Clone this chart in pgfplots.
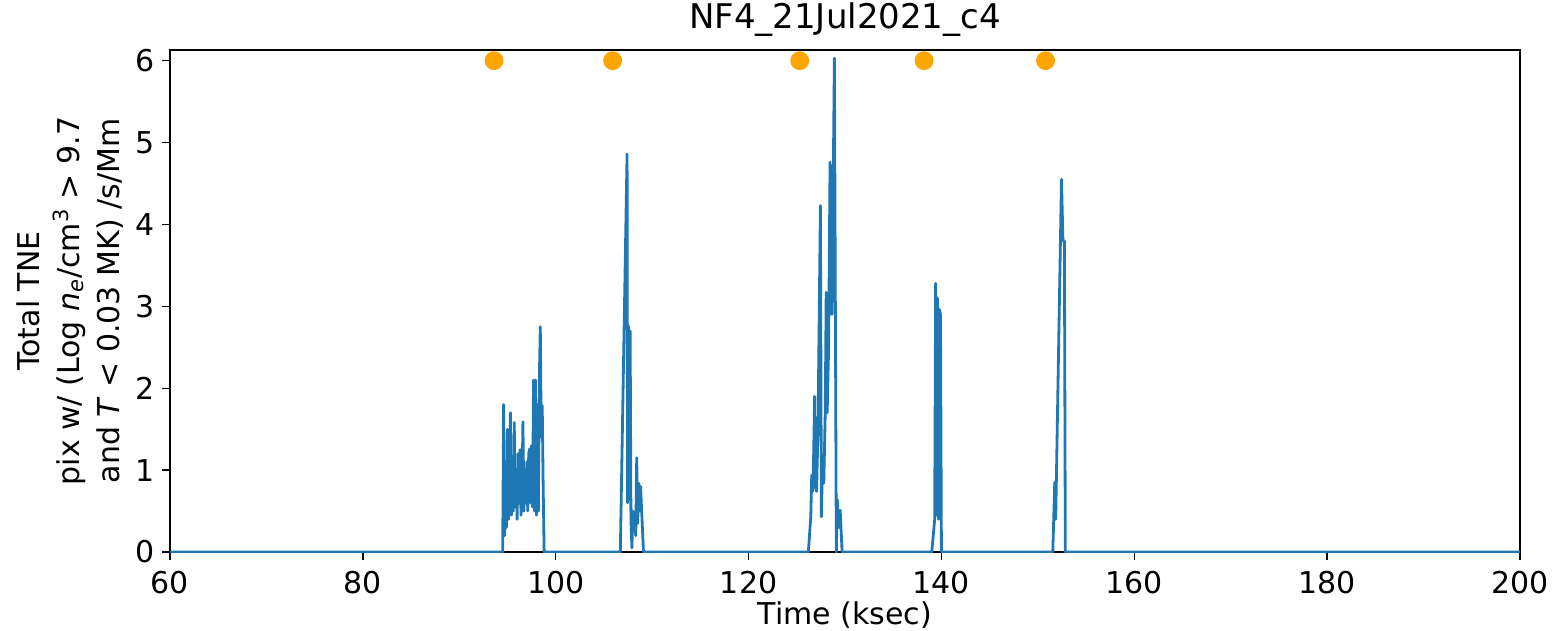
\documentclass[border=0pt]{standalone}
\usepackage{fontspec}
\setmainfont{DejaVu Sans}
\usepackage{pgfplots}
\pgfplotsset{compat=1.18}
\definecolor{mplblue}{HTML}{1F77B4}
\definecolor{mplorange}{HTML}{FFA500}
\begin{document}
\begin{tikzpicture}
\begin{axis}[
  scale only axis, width=675pt, height=251pt,
  xmin=60, xmax=200, ymin=0, ymax=6.13,
  xtick={60,80,...,200}, ytick={0,1,...,6},
  tick align=outside, major tick length=4pt,
  xtick pos=bottom, ytick pos=left,
  axis line style={line width=0.7pt}, every tick/.style={black,line width=0.7pt},
  /pgf/number format/assume math mode=true,
  ticklabel style={font=\fontsize{15}{18}\selectfont},
  xticklabel style={yshift=-2pt},
  title={NF4\_21Jul2021\_c4},
  title style={font=\fontsize{17}{20}\selectfont, at={(axis description cs:0.5,1)}, anchor=base, yshift=5pt},
  xlabel={Time (ksec)},
  xlabel style={font=\fontsize{15}{18}\selectfont, at={(axis description cs:0.5,0)}, anchor=base, yshift=-36pt},
  ylabel={Total TNE\\pix w/ (Log \textit{n}\textsubscript{\textit{e}}/cm\textsuperscript{3} > 9.7\\and \textit{T} < 0.03 MK) /s/Mm},
  ylabel style={font=\fontsize{15}{20}\selectfont, align=center, at={(axis description cs:-0.0741,0.5)}, anchor=center},
]
\addplot[mplblue, line width=1.4pt, line join=round] coordinates {
(60,0) (94.5,0)
(94.6,1.80) (94.7,0.2) (94.8,1.1) (94.9,0.3) (95.0,1.5) (95.1,0.4) (95.2,0.6)
(95.3,1.70) (95.4,0.45) (95.5,1.0) (95.6,0.5) (95.7,1.58) (95.8,0.55) (95.9,1.0)
(96.0,0.4) (96.1,1.2) (96.2,0.6) (96.3,1.25) (96.4,0.45) (96.5,0.7) (96.6,1.59)
(96.7,0.5) (96.8,1.0) (96.9,0.6) (97.0,1.1) (97.1,0.5) (97.2,1.2) (97.3,1.26)
(97.4,0.6) (97.5,1.3) (97.6,0.55) (97.7,2.1) (97.8,0.5) (97.9,2.1) (98.0,0.45)
(98.1,1.8) (98.2,0.5) (98.3,2.1) (98.4,2.75) (98.5,1.4) (98.6,1.79) (98.7,0.8) (98.8,0)
(106.7,0) (107.40,4.86) (107.45,0.6) (107.55,2.76) (107.65,0.64) (107.72,2.7)
(107.8,0.4) (107.9,0.05) (108.0,0.5) (108.3,0.2) (108.4,1.15) (108.5,0.35)
(108.6,0.84) (108.7,0.5) (108.8,0.8) (109.1,0)
(126.2,0) (126.45,0.43) (126.55,0.94) (126.65,0.74) (126.75,1.2) (126.85,1.9)
(126.95,0.8) (127.05,0.74) (127.2,1.5) (127.45,4.23) (127.55,0.43) (127.65,1.0)
(127.8,0.84) (127.95,1.7) (128.05,3.17) (128.15,1.7) (128.3,2.5) (128.45,4.76)
(128.55,4.03) (128.65,2.9) (128.9,6.03) (129.1,0.0) (129.2,0.64) (129.35,0.3)
(129.5,0.51) (129.7,0)
(139.0,0) (139.3,0.4) (139.4,3.28) (139.5,0.45) (139.6,3.1) (139.7,0.4)
(139.8,2.96) (139.9,2.9) (140.0,0)
(151.55,0) (151.75,0.85) (151.85,0.4) (152.45,4.55) (152.6,3.8) (152.75,3.8) (152.85,0)
(200,0)
};
\addplot[only marks, mark=*, mark size=4.5pt, mark options={draw=mplorange, fill=mplorange}] coordinates {
(93.6,6) (105.9,6) (125.3,6) (138.2,6) (150.8,6)
};
\coordinate (sw) at (rel axis cs:0,0);
\coordinate (ne) at (rel axis cs:1,1);
\end{axis}
\pgfresetboundingbox
\path[use as bounding box] ([xshift=-85pt,yshift=-39pt]sw) rectangle ([xshift=16pt,yshift=25pt]ne);
\end{tikzpicture}
\end{document}
